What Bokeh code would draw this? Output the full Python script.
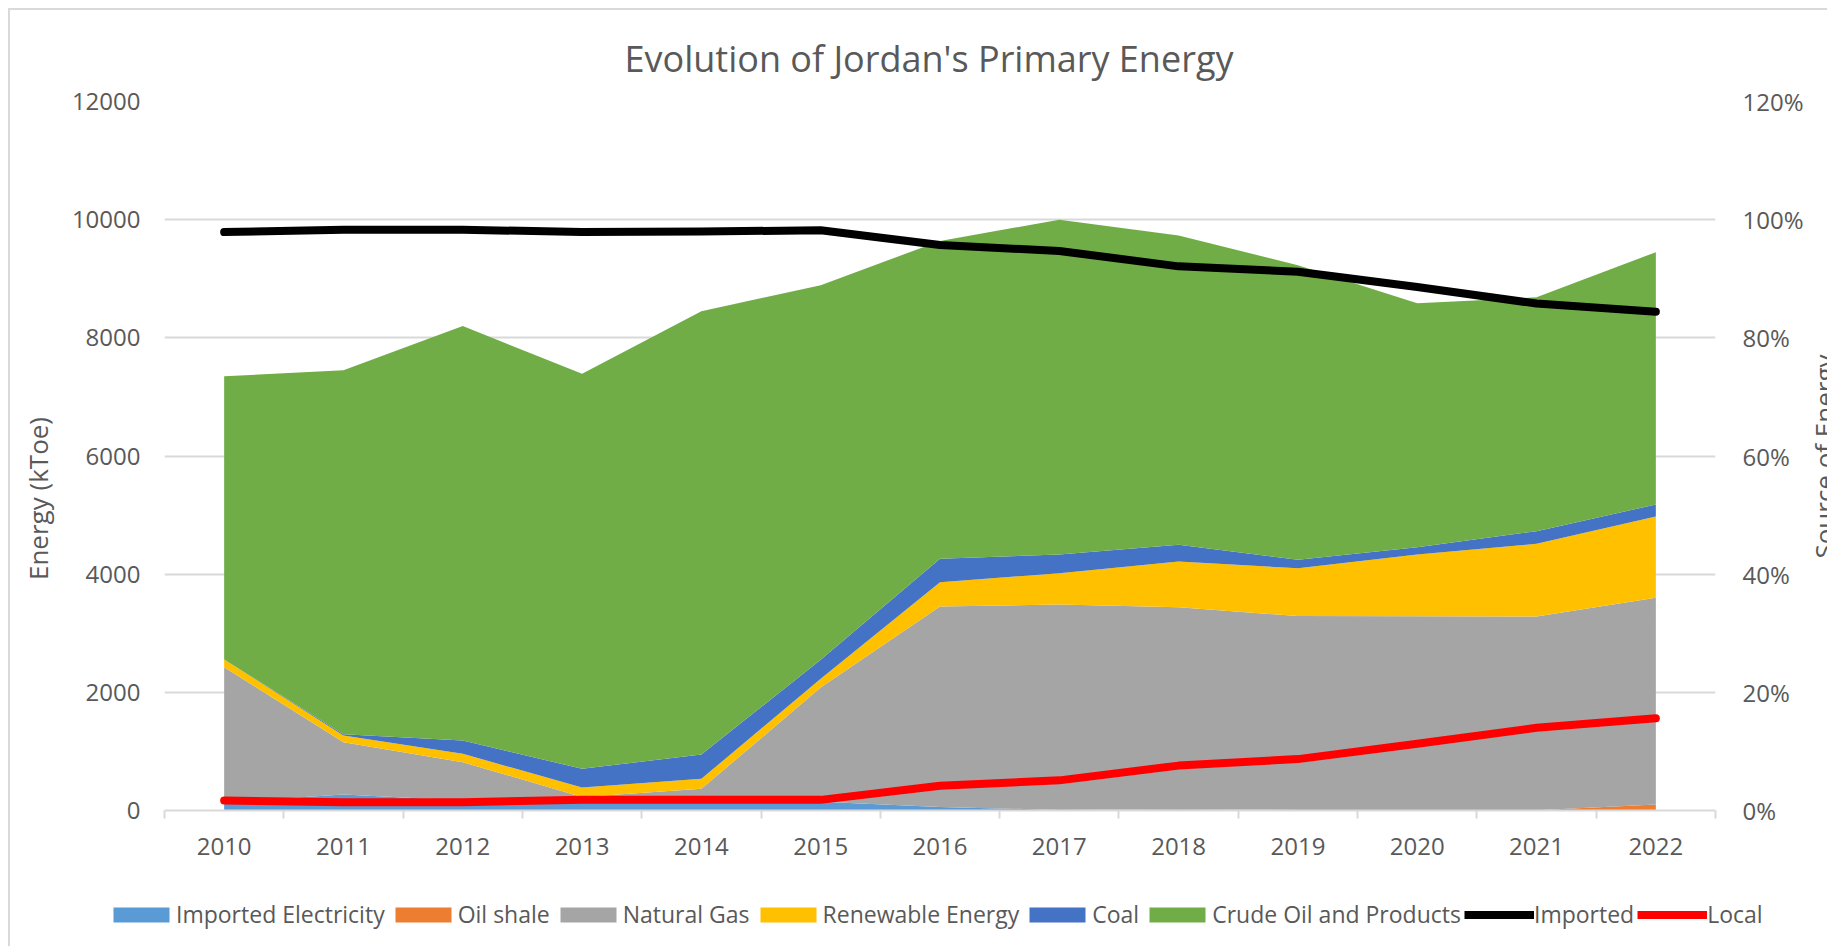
import math
from bokeh.plotting import figure
from bokeh.layouts import column, row
from bokeh.models import (ColumnDataSource, Range1d, LinearAxis, FixedTicker,
                          NumeralTickFormatter, Legend, LegendItem, Label)
from bokeh.embed import file_html
from bokeh.resources import INLINE

# ---------------- data (kToe) ----------------
years = [2010, 2011, 2012, 2013, 2014, 2015, 2016, 2017, 2018, 2019, 2020, 2021, 2022]
imported_electricity = [140, 270, 170, 140, 150, 150, 60, 10, 20, 10, 5, 5, 0]
oil_shale = [0, 0, 0, 0, 0, 0, 0, 0, 0, 0, 0, 0, 100]
natural_gas = [2286, 886, 648, 90, 217, 1930, 3393, 3477, 3421, 3280, 3284, 3279, 3500]
renewable_energy = [129, 114, 141, 160, 169, 150, 411, 530, 774, 810, 1044, 1230, 1376]
coal = [0, 20, 226, 316, 412, 320, 396, 316, 282, 146, 124, 214, 203]
crude_oil = [4795, 6160, 7015, 6684, 7502, 6340, 5380, 5667, 5233, 4984, 4128, 3957, 4271]
# share of energy source (secondary axis)
imported_share = [0.979, 0.983, 0.983, 0.979, 0.980, 0.982, 0.957, 0.947, 0.921, 0.912, 0.886, 0.858, 0.844]
local_share = [0.017, 0.014, 0.014, 0.018, 0.018, 0.018, 0.042, 0.051, 0.076, 0.087, 0.113, 0.140, 0.156]

area_names = ["Imported Electricity", "Oil shale", "Natural Gas", "Renewable Energy", "Coal",
              "Crude Oil and Products"]
area_colors = ["#5B9BD5", "#ED7D31", "#A5A5A5", "#FFC000", "#4472C4", "#70AD47"]
line_names = ["Imported", "Local"]
line_colors = ["#000000", "#FF0000"]

y_ticks = [0, 2000, 4000, 6000, 8000, 10000, 12000]
pct_ticks = [0, 0.2, 0.4, 0.6, 0.8, 1.0, 1.2]

TEXT = "#595959"
GRID = "#D9D9D9"
FONT = "Open Sans"
TICK_SIZE = "24px"

src = ColumnDataSource(dict(
    year=years, ie=imported_electricity, os=oil_shale, ng=natural_gas,
    re=renewable_energy, coal=coal, crude=crude_oil,
    imp=imported_share, loc=local_share,
))

HT = 936                 # total height
WL, WM, WR = 50, 1746, 21  # left strip, main, right strip
H1, H2 = 860, 76         # main chart, legend strip


def strip(width, height):
    f = figure(width=width, height=height, output_backend="svg", toolbar_location=None,
               title=None, x_range=Range1d(0, 1), y_range=Range1d(0, 1),
               x_axis_type=None, y_axis_type=None, min_border=0, outline_line_color=None,
               background_fill_color="white", border_fill_color="white")
    f.frame_align = False
    return f


# ---------------- main chart ----------------
p = figure(width=WM, height=H1, output_backend="svg", toolbar_location=None,
           x_range=Range1d(years[0] - 0.5, years[-1] + 0.5), y_range=Range1d(0, 12000),
           min_border_left=104, min_border_right=90, min_border_top=91, min_border_bottom=60,
           outline_line_color=None, background_fill_color="white", border_fill_color="white")
p.frame_align = False

p.title.text = "Evolution of Jordan's Primary Energy"
p.title.text_font = FONT
p.title.text_font_size = "36px"
p.title.text_font_style = "normal"
p.title.text_color = TEXT
p.title.align = "left"
p.title.offset = 460
p.title.vertical_align = "bottom"
p.title.standoff = 38

xa = p.xaxis[0]
xa.ticker = FixedTicker(ticks=years, minor_ticks=[y - 0.5 for y in years] + [years[-1] + 0.5])
xa.major_tick_line_color = None
xa.major_tick_out = 0
xa.major_tick_in = 0
xa.minor_tick_line_color = GRID
xa.minor_tick_line_width = 2
xa.minor_tick_out = 8
xa.minor_tick_in = 0
xa.axis_line_color = GRID
xa.axis_line_width = 2
xa.major_label_text_font = FONT
xa.major_label_text_font_size = TICK_SIZE
xa.major_label_text_color = TEXT
xa.major_label_standoff = 19

ya = p.yaxis[0]
ya.ticker = FixedTicker(ticks=y_ticks, minor_ticks=[])
ya.axis_line_color = None
ya.major_tick_line_color = None
ya.minor_tick_line_color = None
ya.major_tick_out = 0
ya.major_label_standoff = 24
ya.major_label_text_font = FONT
ya.major_label_text_font_size = TICK_SIZE
ya.major_label_text_color = TEXT

p.xgrid.visible = False
p.ygrid.grid_line_color = GRID
p.ygrid.grid_line_width = 2

p.extra_y_ranges = {"pct": Range1d(0, 1.2)}
ra = LinearAxis(y_range_name="pct", ticker=FixedTicker(ticks=pct_ticks, minor_ticks=[]),
                formatter=NumeralTickFormatter(format="0%"))
ra.axis_line_color = None
ra.major_tick_line_color = None
ra.minor_tick_line_color = None
ra.major_tick_out = 0
ra.major_label_standoff = 27
ra.major_label_text_font = FONT
ra.major_label_text_font_size = TICK_SIZE
ra.major_label_text_color = TEXT
p.add_layout(ra, "right")

p.varea_stack(["ie", "os", "ng", "re", "coal", "crude"], x="year",
              color=area_colors, source=src)
p.line("year", "imp", source=src, y_range_name="pct", line_color=line_colors[0],
       line_width=8, line_cap="round", line_join="round")
p.line("year", "loc", source=src, y_range_name="pct", line_color=line_colors[1],
       line_width=8, line_cap="round", line_join="round")

# ---------------- legend strip ----------------
q = strip(WM, H2)
nan = float("nan")
leg_items = []
for name, c in zip(area_names, area_colors):
    r = q.varea(x=[nan], y1=[nan], y2=[nan], fill_color=c)
    leg_items.append(LegendItem(label=name, renderers=[r]))
for name, c in zip(line_names, line_colors):
    r = q.line(x=[nan], y=[nan], line_color=c, line_width=8)
    leg_items.append(LegendItem(label=name, renderers=[r]))
legend = Legend(items=leg_items, orientation="horizontal", location=(46, 16),
                glyph_width=70, glyph_height=19, label_standoff=0, spacing=3,
                padding=0, margin=0, border_line_color=None, background_fill_alpha=0,
                label_text_font=FONT, label_text_font_size="23px", label_text_color=TEXT)
q.add_layout(legend)

# ---------------- axis-title strips ----------------
left = strip(WL, HT)
left.add_layout(Label(x=27, y=448, x_units="screen", y_units="screen", angle=math.pi / 2,
                      text="Energy (kToe)", text_font=FONT, text_font_size="26px",
                      text_color=TEXT, text_align="center", text_baseline="middle"))
right = strip(WR, HT)
right.add_layout(Label(x=17, y=490, x_units="screen", y_units="screen", angle=math.pi / 2,
                       text="Source of Energy", text_font=FONT, text_font_size="26px",
                       text_color=TEXT, text_align="center", text_baseline="alphabetic"))

layout = row(left, column(p, q, spacing=0), right, spacing=0)
layout.styles = {"margin-left": "8px", "margin-top": "8px",
                 "border-left": "2px solid #D9D9D9", "border-top": "2px solid #D9D9D9"}

open("out.html", "w").write(file_html(layout, INLINE))
